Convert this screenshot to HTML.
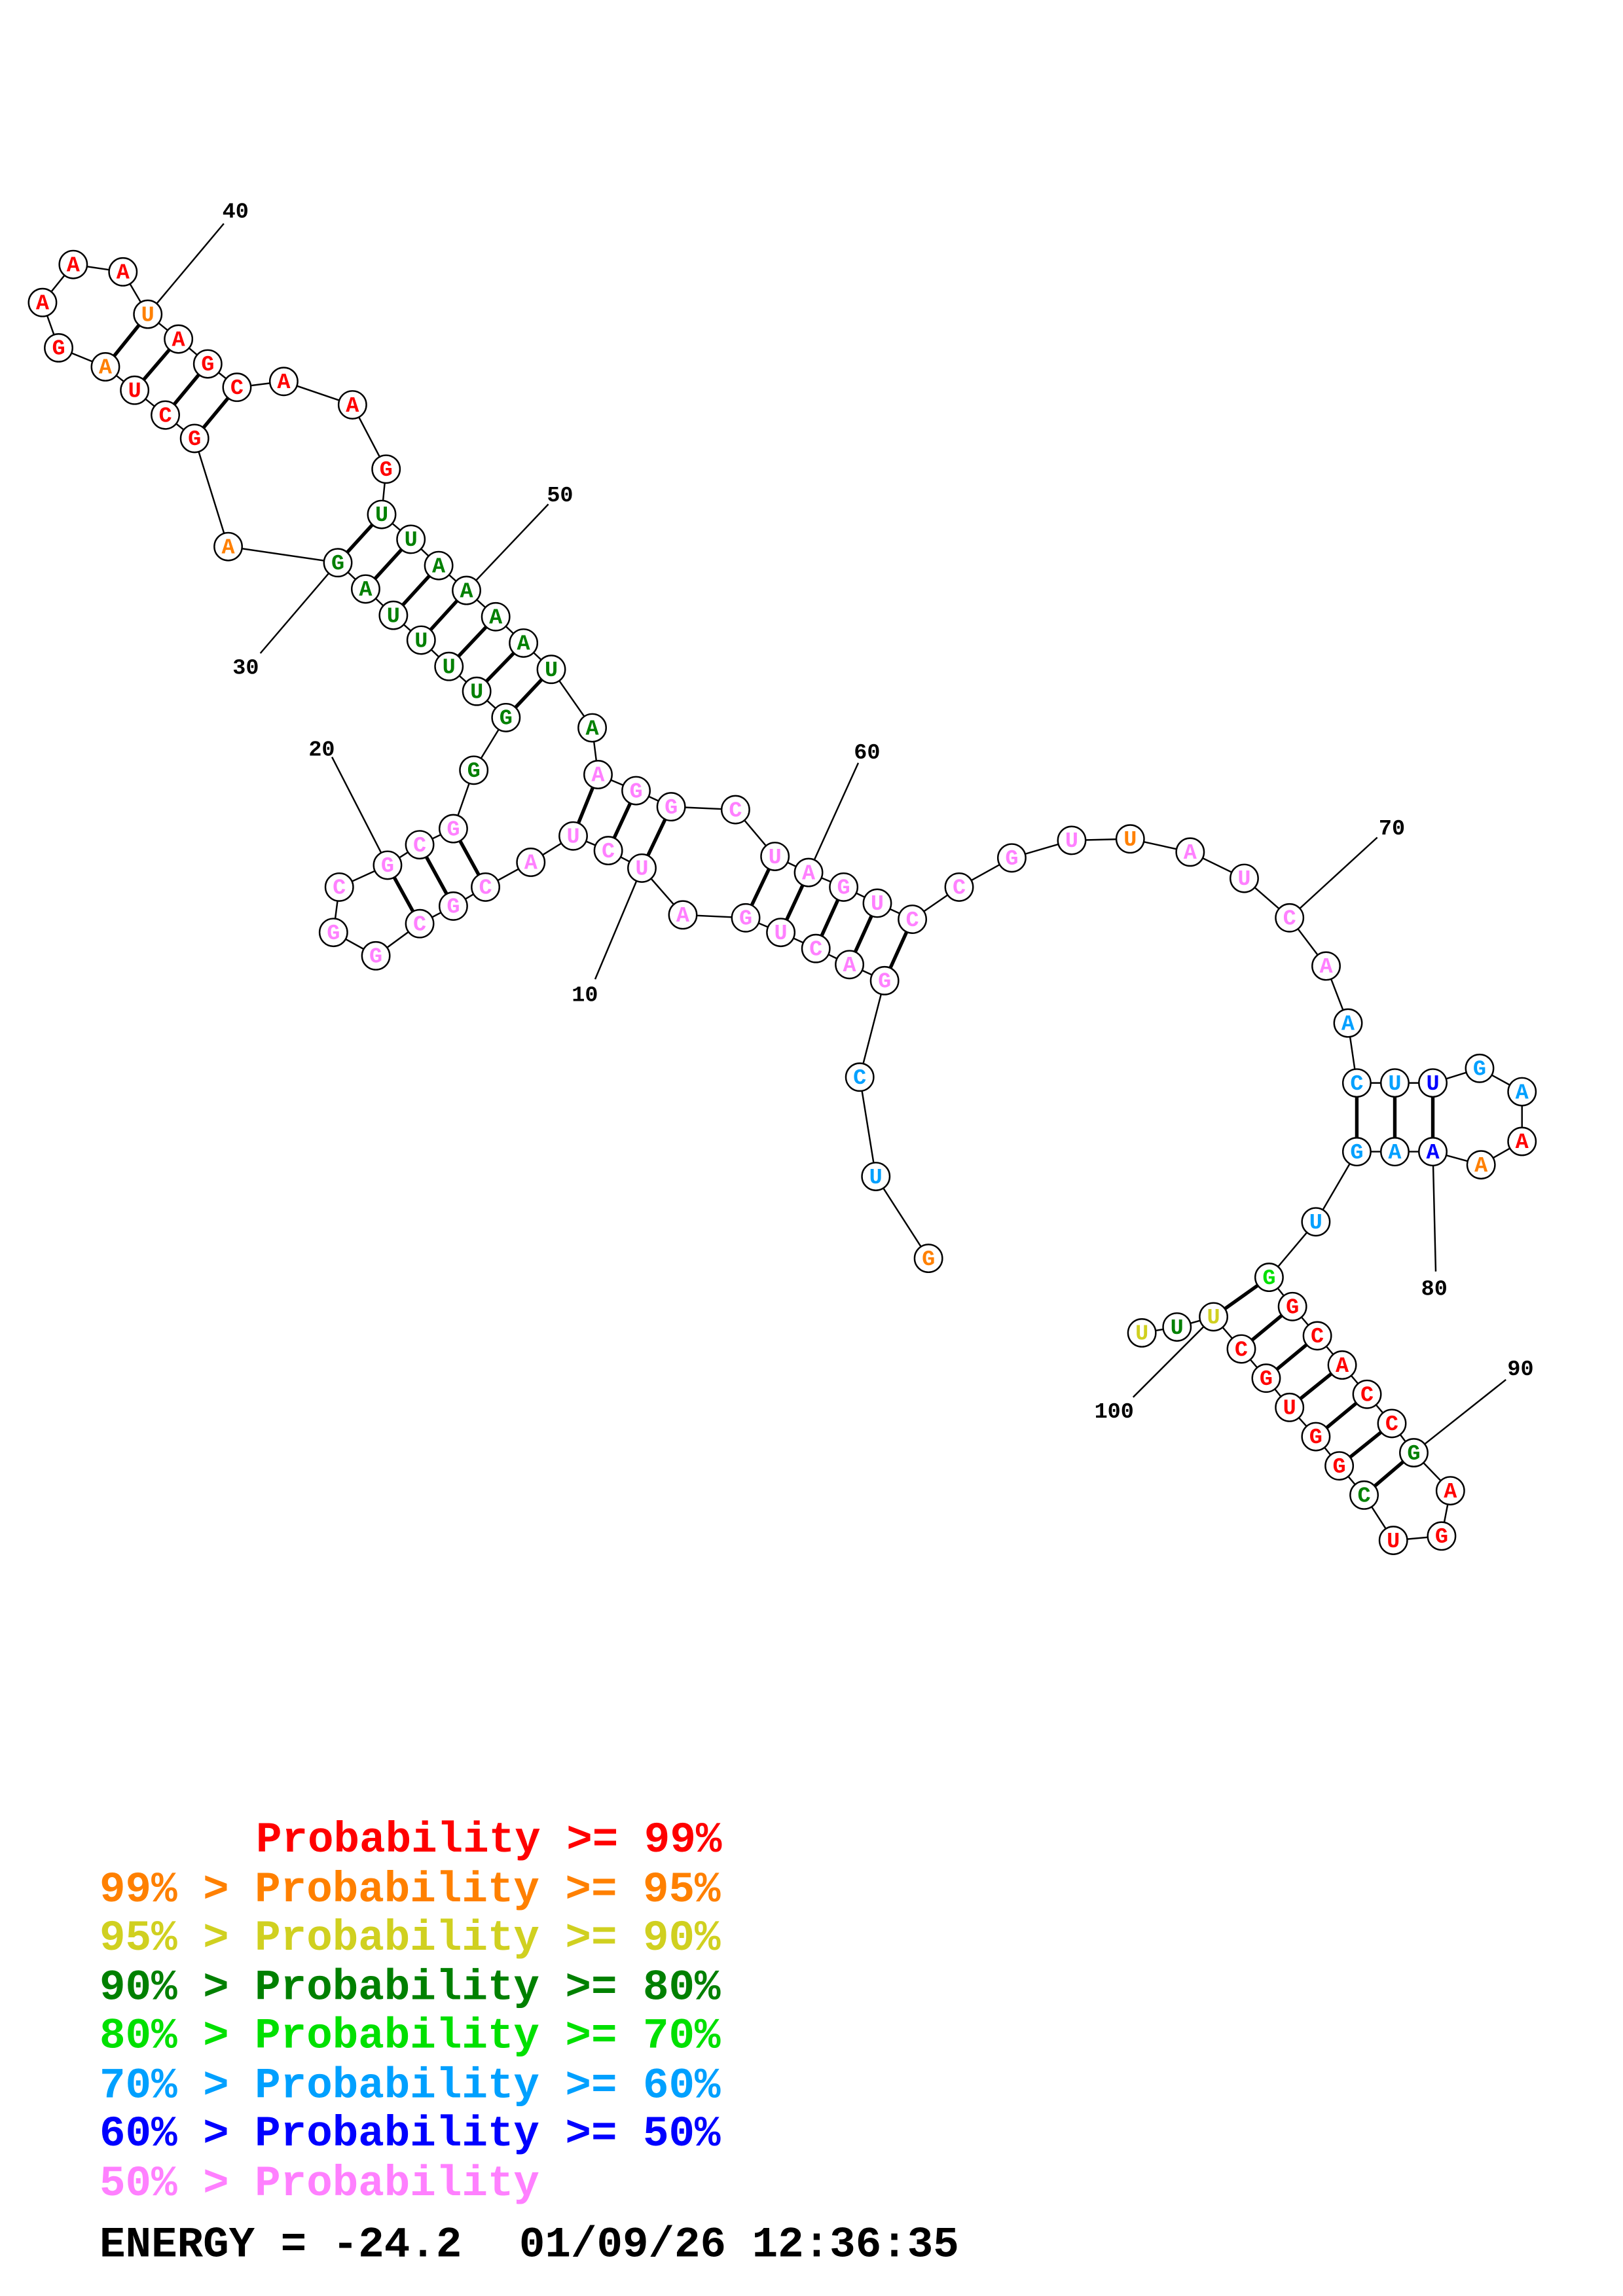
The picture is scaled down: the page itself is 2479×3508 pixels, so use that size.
<!DOCTYPE html>
<html><head><meta charset="utf-8"><style>
html,body{margin:0;padding:0;background:#fff}
svg{display:block}
.n{font-family:"Liberation Mono",monospace;font-weight:bold;font-size:15px}
.l{font-family:"Liberation Mono",monospace;font-weight:bold;font-size:15px}
.g{font-family:"Liberation Mono",monospace;font-weight:bold;font-size:29.5px;white-space:pre}
</style></head><body>
<svg width="2479" height="3508" viewBox="0 0 1110 1571" xmlns="http://www.w3.org/2000/svg" xml:space="preserve">
<rect width="1110" height="1571" fill="#fff"/>
<g stroke="#000" stroke-width="1.1" fill="none">
<polyline points="635,861 599,805 588,737 605,671 581,660 558,649 534,638 510,628 467,626 439,594 416,582 392,572 363,590 332,607 310,620 287,632 257,654 228,638 232,607 265,592 287,578 310,567 324,527 346,491 326,473 307,456 288,438 269,421 250,403 231,385 156,374 133,300 113,284 92,267 72,251 40,238 29,207 50,181 84,186 101,215 122,232 142,249 162,265 194,261 241,277 264,321 261,352 281,369 300,387 319,404 339,422 358,440 377,458 405,498 409,530 435,541 459,552 503,554 530,586 553,597 577,607 600,618 624,629 656,607 692,587 733,575 773,574 814,583 851,601 882,628 907,661 922,700 928,741 954,741 980,741 1012,731 1041,747 1041,781 1013,797 980,788 954,788 928,788 900,836 868,874 884,894 901,914 918,934 935,954 952,974 967,994 992,1020 986,1051 953,1054 933,1023 916,1003 900,983 882,963 866,943 849,923 830,901 805,908 781,912"/>
<line x1="153" y1="153" x2="101" y2="215"/>
<line x1="375" y1="345" x2="319" y2="404"/>
<line x1="178" y1="447" x2="231" y2="385"/>
<line x1="227" y1="518" x2="265" y2="592"/>
<line x1="407" y1="670" x2="439" y2="594"/>
<line x1="587" y1="522" x2="553" y2="597"/>
<line x1="942" y1="573" x2="882" y2="628"/>
<line x1="982" y1="870" x2="980" y2="788"/>
<line x1="1030" y1="944" x2="967" y2="994"/>
<line x1="775" y1="956" x2="830" y2="901"/>
</g>
<g stroke="#000" stroke-width="2.4">
<line x1="605" y1="671" x2="624" y2="629"/><line x1="581" y1="660" x2="600" y2="618"/><line x1="558" y1="649" x2="577" y2="607"/><line x1="534" y1="638" x2="553" y2="597"/><line x1="510" y1="628" x2="530" y2="586"/>
<line x1="439" y1="594" x2="459" y2="552"/><line x1="416" y1="582" x2="435" y2="541"/><line x1="392" y1="572" x2="409" y2="530"/>
<line x1="332" y1="607" x2="310" y2="567"/><line x1="310" y1="620" x2="287" y2="578"/><line x1="287" y1="632" x2="265" y2="592"/>
<line x1="346" y1="491" x2="377" y2="458"/><line x1="326" y1="473" x2="358" y2="440"/><line x1="307" y1="456" x2="339" y2="422"/><line x1="288" y1="438" x2="319" y2="404"/><line x1="269" y1="421" x2="300" y2="387"/><line x1="250" y1="403" x2="281" y2="369"/><line x1="231" y1="385" x2="261" y2="352"/>
<line x1="133" y1="300" x2="162" y2="265"/><line x1="113" y1="284" x2="142" y2="249"/><line x1="92" y1="267" x2="122" y2="232"/><line x1="72" y1="251" x2="101" y2="215"/>
<line x1="928" y1="741" x2="928" y2="788"/><line x1="954" y1="741" x2="954" y2="788"/><line x1="980" y1="741" x2="980" y2="788"/>
<line x1="868" y1="874" x2="830" y2="901"/><line x1="884" y1="894" x2="849" y2="923"/><line x1="901" y1="914" x2="866" y2="943"/><line x1="918" y1="934" x2="882" y2="963"/><line x1="935" y1="954" x2="900" y2="983"/><line x1="952" y1="974" x2="916" y2="1003"/><line x1="967" y1="994" x2="933" y2="1023"/>
</g>
<g fill="#fff" stroke="#000" stroke-width="1.1">
<circle cx="635" cy="861" r="9.5"/><circle cx="599" cy="805" r="9.5"/><circle cx="588" cy="737" r="9.5"/><circle cx="605" cy="671" r="9.5"/><circle cx="581" cy="660" r="9.5"/><circle cx="558" cy="649" r="9.5"/><circle cx="534" cy="638" r="9.5"/><circle cx="510" cy="628" r="9.5"/><circle cx="467" cy="626" r="9.5"/><circle cx="439" cy="594" r="9.5"/><circle cx="416" cy="582" r="9.5"/><circle cx="392" cy="572" r="9.5"/><circle cx="363" cy="590" r="9.5"/><circle cx="332" cy="607" r="9.5"/><circle cx="310" cy="620" r="9.5"/><circle cx="287" cy="632" r="9.5"/><circle cx="257" cy="654" r="9.5"/><circle cx="228" cy="638" r="9.5"/><circle cx="232" cy="607" r="9.5"/><circle cx="265" cy="592" r="9.5"/><circle cx="287" cy="578" r="9.5"/><circle cx="310" cy="567" r="9.5"/><circle cx="324" cy="527" r="9.5"/><circle cx="346" cy="491" r="9.5"/><circle cx="326" cy="473" r="9.5"/><circle cx="307" cy="456" r="9.5"/><circle cx="288" cy="438" r="9.5"/><circle cx="269" cy="421" r="9.5"/><circle cx="250" cy="403" r="9.5"/><circle cx="231" cy="385" r="9.5"/><circle cx="156" cy="374" r="9.5"/><circle cx="133" cy="300" r="9.5"/><circle cx="113" cy="284" r="9.5"/><circle cx="92" cy="267" r="9.5"/><circle cx="72" cy="251" r="9.5"/><circle cx="40" cy="238" r="9.5"/><circle cx="29" cy="207" r="9.5"/><circle cx="50" cy="181" r="9.5"/><circle cx="84" cy="186" r="9.5"/><circle cx="101" cy="215" r="9.5"/><circle cx="122" cy="232" r="9.5"/><circle cx="142" cy="249" r="9.5"/><circle cx="162" cy="265" r="9.5"/><circle cx="194" cy="261" r="9.5"/><circle cx="241" cy="277" r="9.5"/><circle cx="264" cy="321" r="9.5"/><circle cx="261" cy="352" r="9.5"/><circle cx="281" cy="369" r="9.5"/><circle cx="300" cy="387" r="9.5"/><circle cx="319" cy="404" r="9.5"/><circle cx="339" cy="422" r="9.5"/><circle cx="358" cy="440" r="9.5"/><circle cx="377" cy="458" r="9.5"/><circle cx="405" cy="498" r="9.5"/><circle cx="409" cy="530" r="9.5"/><circle cx="435" cy="541" r="9.5"/><circle cx="459" cy="552" r="9.5"/><circle cx="503" cy="554" r="9.5"/><circle cx="530" cy="586" r="9.5"/><circle cx="553" cy="597" r="9.5"/><circle cx="577" cy="607" r="9.5"/><circle cx="600" cy="618" r="9.5"/><circle cx="624" cy="629" r="9.5"/><circle cx="656" cy="607" r="9.5"/><circle cx="692" cy="587" r="9.5"/><circle cx="733" cy="575" r="9.5"/><circle cx="773" cy="574" r="9.5"/><circle cx="814" cy="583" r="9.5"/><circle cx="851" cy="601" r="9.5"/><circle cx="882" cy="628" r="9.5"/><circle cx="907" cy="661" r="9.5"/><circle cx="922" cy="700" r="9.5"/><circle cx="928" cy="741" r="9.5"/><circle cx="954" cy="741" r="9.5"/><circle cx="980" cy="741" r="9.5"/><circle cx="1012" cy="731" r="9.5"/><circle cx="1041" cy="747" r="9.5"/><circle cx="1041" cy="781" r="9.5"/><circle cx="1013" cy="797" r="9.5"/><circle cx="980" cy="788" r="9.5"/><circle cx="954" cy="788" r="9.5"/><circle cx="928" cy="788" r="9.5"/><circle cx="900" cy="836" r="9.5"/><circle cx="868" cy="874" r="9.5"/><circle cx="884" cy="894" r="9.5"/><circle cx="901" cy="914" r="9.5"/><circle cx="918" cy="934" r="9.5"/><circle cx="935" cy="954" r="9.5"/><circle cx="952" cy="974" r="9.5"/><circle cx="967" cy="994" r="9.5"/><circle cx="992" cy="1020" r="9.5"/><circle cx="986" cy="1051" r="9.5"/><circle cx="953" cy="1054" r="9.5"/><circle cx="933" cy="1023" r="9.5"/><circle cx="916" cy="1003" r="9.5"/><circle cx="900" cy="983" r="9.5"/><circle cx="882" cy="963" r="9.5"/><circle cx="866" cy="943" r="9.5"/><circle cx="849" cy="923" r="9.5"/><circle cx="830" cy="901" r="9.5"/><circle cx="805" cy="908" r="9.5"/><circle cx="781" cy="912" r="9.5"/>
</g>
<g class="n" text-anchor="middle" dominant-baseline="central">
<text x="635" y="862" fill="#ff8000">G</text><text x="599" y="806" fill="#00a0ff">U</text><text x="588" y="738" fill="#00a0ff">C</text>
<g fill="#ff80ff"><text x="605" y="672">G</text><text x="581" y="661">A</text><text x="558" y="650">C</text><text x="534" y="639">U</text><text x="510" y="629">G</text><text x="467" y="627">A</text><text x="439" y="595">U</text><text x="416" y="583">C</text><text x="392" y="573">U</text><text x="363" y="591">A</text><text x="332" y="608">C</text><text x="310" y="621">G</text><text x="287" y="633">C</text><text x="257" y="655">G</text><text x="228" y="639">G</text><text x="232" y="608">C</text><text x="265" y="593">G</text><text x="287" y="579">C</text><text x="310" y="568">G</text></g>
<g fill="#008000"><text x="324" y="528">G</text><text x="346" y="492">G</text><text x="326" y="474">U</text><text x="307" y="457">U</text><text x="288" y="439">U</text><text x="269" y="422">U</text><text x="250" y="404">A</text><text x="231" y="386">G</text></g>
<text x="156" y="375" fill="#ff8000">A</text>
<g fill="#ff0000"><text x="133" y="301">G</text><text x="113" y="285">C</text><text x="92" y="268">U</text><text x="40" y="239">G</text><text x="29" y="208">A</text><text x="50" y="182">A</text><text x="84" y="187">A</text><text x="122" y="233">A</text><text x="142" y="250">G</text><text x="162" y="266">C</text><text x="194" y="262">A</text><text x="241" y="278">A</text><text x="264" y="322">G</text></g>
<text x="72" y="252" fill="#ff8000">A</text><text x="101" y="216" fill="#ff8000">U</text>
<g fill="#008000"><text x="261" y="353">U</text><text x="281" y="370">U</text><text x="300" y="388">A</text><text x="319" y="405">A</text><text x="339" y="423">A</text><text x="358" y="441">A</text><text x="377" y="459">U</text><text x="405" y="499">A</text></g>
<g fill="#ff80ff"><text x="409" y="531">A</text><text x="435" y="542">G</text><text x="459" y="553">G</text><text x="503" y="555">C</text><text x="530" y="587">U</text><text x="553" y="598">A</text><text x="577" y="608">G</text><text x="600" y="619">U</text><text x="624" y="630">C</text><text x="656" y="608">C</text><text x="692" y="588">G</text><text x="733" y="576">U</text><text x="814" y="584">A</text><text x="851" y="602">U</text><text x="882" y="629">C</text><text x="907" y="662">A</text></g>
<text x="773" y="575" fill="#ff8000">U</text>
<g fill="#00a0ff"><text x="922" y="701">A</text><text x="928" y="742">C</text><text x="954" y="742">U</text><text x="1012" y="732">G</text><text x="1041" y="748">A</text><text x="954" y="789">A</text><text x="928" y="789">G</text><text x="900" y="837">U</text></g>
<text x="980" y="742" fill="#0000ff">U</text><text x="980" y="789" fill="#0000ff">A</text>
<text x="1041" y="782" fill="#ff0000">A</text><text x="1013" y="798" fill="#ff8000">A</text>
<text x="868" y="875" fill="#00e000">G</text>
<g fill="#ff0000"><text x="884" y="895">G</text><text x="901" y="915">C</text><text x="918" y="935">A</text><text x="935" y="955">C</text><text x="952" y="975">C</text><text x="992" y="1021">A</text><text x="986" y="1052">G</text><text x="953" y="1055">U</text><text x="916" y="1004">G</text><text x="900" y="984">G</text><text x="882" y="964">U</text><text x="866" y="944">G</text><text x="849" y="924">C</text></g>
<text x="967" y="995" fill="#008000">G</text><text x="933" y="1024" fill="#008000">C</text>
<text x="830" y="902" fill="#d0d020">U</text><text x="805" y="909" fill="#008000">U</text><text x="781" y="913" fill="#d0d020">U</text>
</g>
<g class="l" fill="#000" text-anchor="middle">
<text x="161" y="149">40</text><text x="383" y="343">50</text><text x="168" y="461">30</text><text x="220" y="517">20</text><text x="400" y="685">10</text><text x="593" y="519">60</text><text x="952" y="571">70</text><text x="981" y="886">80</text><text x="1040" y="941">90</text><text x="762" y="970">100</text>
</g>
<g class="g">
<text x="175" y="1267" fill="#ff0000">Probability &gt;= 99%</text>
<text x="68" y="1301" fill="#ff8000">99% &gt; Probability &gt;= 95%</text>
<text x="68" y="1334" fill="#d0d020">95% &gt; Probability &gt;= 90%</text>
<text x="68" y="1368" fill="#008000">90% &gt; Probability &gt;= 80%</text>
<text x="68" y="1401" fill="#00e000">80% &gt; Probability &gt;= 70%</text>
<text x="68" y="1435" fill="#00a0ff">70% &gt; Probability &gt;= 60%</text>
<text x="68" y="1468" fill="#0000ff">60% &gt; Probability &gt;= 50%</text>
<text x="68" y="1502" fill="#ff80ff">50% &gt; Probability</text>
<text x="68" y="1544" fill="#000">ENERGY = -24.2</text>
<text x="355" y="1544" fill="#000">01/09/26 12:36:35</text>
</g>
</svg>
</body></html>
